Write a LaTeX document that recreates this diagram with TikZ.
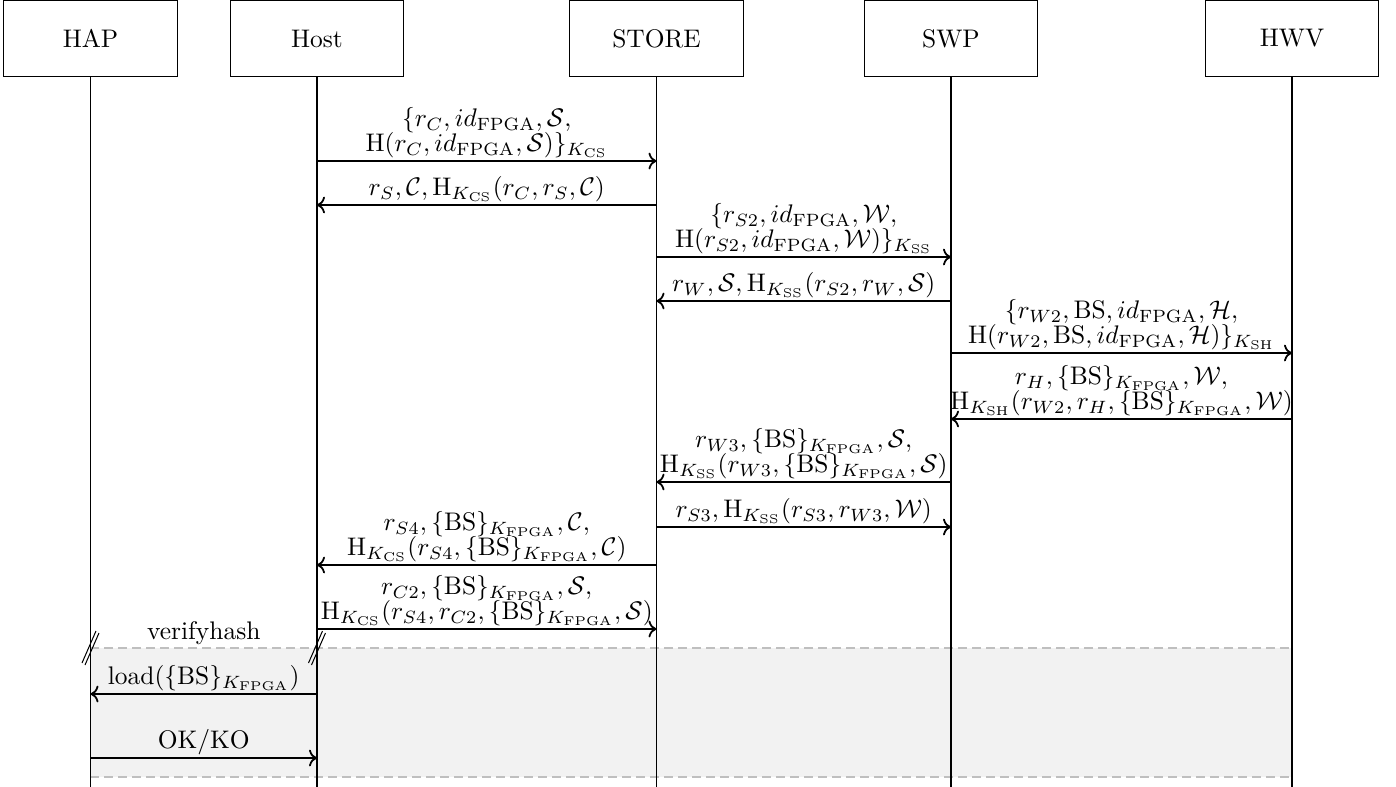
\documentclass[tikz,border=0pt]{standalone}
\usetikzlibrary{arrows.meta,calc}
\begin{document}
\begin{tikzpicture}[x=0.393pt,y=-0.393pt,
  actor/.style={draw,line width=0.5pt,minimum width=68.2pt,minimum height=29.6pt,inner sep=0pt},
  lifeline/.style={line width=0.7pt},
  msg/.style={->,line width=0.7pt},
  lbl/.style={above,inner sep=1pt,align=center},
  breakmark/.style={line width=0.4pt}]
\useasboundingbox (0,0) rectangle (1396,787);
% actors
\node[actor] (hap) at (90.5,38.5) {HAP};
\node[actor] (host) at (317,38.5) {Host};
\node[actor] (store) at (656.5,38.5) {STORE};
\node[actor] (swp) at (951,38.5) {SWP};
\node[actor] (hwv) at (1292,38.5) {HWV};
% bottom coordinates of lifelines
\coordinate (hapE) at (hap |- 0,787);
\coordinate (hostE) at (host |- 0,787);
\coordinate (storeE) at (store |- 0,787);
\coordinate (swpE) at (swp |- 0,787);
\coordinate (hwvE) at (hwv |- 0,787);
% shaded block
\coordinate (blkTL) at (hap |- 0,648);
\coordinate (blkBR) at (hwv |- 0,777);
\fill[black!5] (blkTL) rectangle (blkBR);
\draw[black!25,line width=0.6pt,dash pattern=on 3.5pt off 2pt] (blkTL) -- (hwv |- blkTL);
\draw[black!25,line width=0.6pt,dash pattern=on 3.5pt off 2pt] (hap |- blkBR) -- (blkBR);
% lifelines
\draw[lifeline] (hap.south) -- (hapE);
\draw[lifeline] (host.south) -- (hostE);
\draw[lifeline] (store.south) -- (storeE);
\draw[lifeline] (swp.south) -- (swpE);
\draw[lifeline] (hwv.south) -- (hwvE);
% messages
\draw[msg] (host |- 0,161) -- node[lbl]{$\{r_C, id_{\mathrm{FPGA}}, \mathcal{S},$\\[-2.3pt]$\mathrm{H}(r_C, id_{\mathrm{FPGA}}, \mathcal{S})\}_{K_{\mathrm{CS}}}$} (store |- 0,161);
\draw[msg] (store |- 0,205) -- node[lbl]{$r_S, \mathcal{C}, \mathrm{H}_{K_{\mathrm{CS}}}(r_C, r_S, \mathcal{C})$} (host |- 0,205);
\draw[msg] (store |- 0,257) -- node[lbl]{$\{r_{S2}, id_{\mathrm{FPGA}}, \mathcal{W},$\\[-2.3pt]$\mathrm{H}(r_{S2}, id_{\mathrm{FPGA}}, \mathcal{W})\}_{K_{\mathrm{SS}}}$} (swp |- 0,257);
\draw[msg] (swp |- 0,301) -- node[lbl]{$r_W, \mathcal{S}, \mathrm{H}_{K_{\mathrm{SS}}}(r_{S2}, r_W, \mathcal{S})$} (store |- 0,301);
\draw[msg] (swp |- 0,353) -- node[lbl]{$\{r_{W2}, \mathrm{BS}, id_{\mathrm{FPGA}}, \mathcal{H},$\\[-2.3pt]$\mathrm{H}(r_{W2}, \mathrm{BS}, id_{\mathrm{FPGA}}, \mathcal{H})\}_{K_{\mathrm{SH}}}$} (hwv |- 0,353);
\draw[msg] (hwv |- 0,419) -- node[lbl]{$r_H, \{\mathrm{BS}\}_{K_{\mathrm{FPGA}}}, \mathcal{W},$\\[-2.3pt]$\mathrm{H}_{K_{\mathrm{SH}}}(r_{W2}, r_H, \{\mathrm{BS}\}_{K_{\mathrm{FPGA}}}, \mathcal{W})$} (swp |- 0,419);
\draw[msg] (swp |- 0,482) -- node[lbl]{$r_{W3}, \{\mathrm{BS}\}_{K_{\mathrm{FPGA}}}, \mathcal{S},$\\[-2.3pt]$\mathrm{H}_{K_{\mathrm{SS}}}(r_{W3}, \{\mathrm{BS}\}_{K_{\mathrm{FPGA}}}, \mathcal{S})$} (store |- 0,482);
\draw[msg] (store |- 0,527) -- node[lbl]{$r_{S3}, \mathrm{H}_{K_{\mathrm{SS}}}(r_{S3}, r_{W3}, \mathcal{W})$} (swp |- 0,527);
\draw[msg] (store |- 0,565) -- node[lbl]{$r_{S4}, \{\mathrm{BS}\}_{K_{\mathrm{FPGA}}}, \mathcal{C},$\\[-2.3pt]$\mathrm{H}_{K_{\mathrm{CS}}}(r_{S4}, \{\mathrm{BS}\}_{K_{\mathrm{FPGA}}}, \mathcal{C})$} (host |- 0,565);
\draw[msg] (host |- 0,629) -- node[lbl]{$r_{C2}, \{\mathrm{BS}\}_{K_{\mathrm{FPGA}}}, \mathcal{S},$\\[-2.3pt]$\mathrm{H}_{K_{\mathrm{CS}}}(r_{S4}, r_{C2}, \{\mathrm{BS}\}_{K_{\mathrm{FPGA}}}, \mathcal{S})$} (store |- 0,629);
% verifyhash block
\coordinate (vhL) at (hap |- 0,648);
\coordinate (vhR) at (host |- 0,648);
\node[lbl] (vh) at ($(vhL)!0.5!(vhR)$) {verifyhash};
\foreach \c in {vhL,vhR}{
  \draw[breakmark] ([xshift=-8.5*0.393pt,yshift=-15*0.393pt]\c) -- ([xshift=5.5*0.393pt,yshift=17*0.393pt]\c);
  \draw[breakmark] ([xshift=-5.5*0.393pt,yshift=-17*0.393pt]\c) -- ([xshift=8.5*0.393pt,yshift=15*0.393pt]\c);
}
\draw[msg] (host |- 0,694) -- node[lbl]{load($\{\mathrm{BS}\}_{K_{\mathrm{FPGA}}}$)} (hap |- 0,694);
\draw[msg] (hap |- 0,758) -- node[lbl]{OK/KO} (host |- 0,758);
\end{tikzpicture}
\end{document}
